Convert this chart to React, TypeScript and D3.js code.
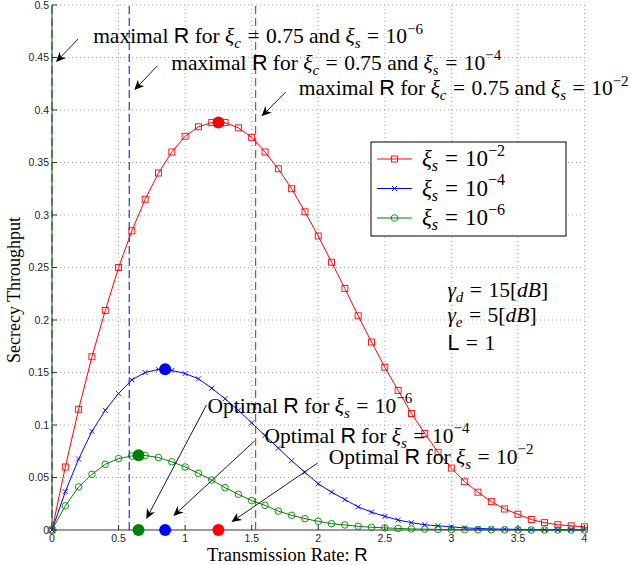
import React from 'react';
import * as d3 from 'd3';

const W = 636;
const H = 565;

// transmission rate samples and throughput for each secrecy outage constraint
const rates = [0, 0.1, 0.2, 0.3, 0.4, 0.5, 0.6, 0.7, 0.8, 0.9, 1.0, 1.1, 1.2, 1.3, 1.4, 1.5, 1.6, 1.7, 1.8, 1.9, 2.0,
  2.1, 2.2, 2.3, 2.4, 2.5, 2.6, 2.7, 2.8, 2.9, 3.0, 3.1, 3.2, 3.3, 3.4, 3.5, 3.6, 3.7, 3.8, 3.9, 4.0];
const tputE2 = [0, 0.060, 0.115, 0.165, 0.209, 0.250, 0.285, 0.315, 0.340, 0.360, 0.375, 0.384, 0.388, 0.388, 0.383,
  0.374, 0.360, 0.344, 0.325, 0.303, 0.280, 0.255, 0.230, 0.204, 0.179, 0.155, 0.133, 0.111, 0.092, 0.074, 0.059,
  0.046, 0.036, 0.027, 0.020, 0.015, 0.010, 0.007, 0.005, 0.004, 0.003];
const tputE4 = [0, 0.0365, 0.0676, 0.094, 0.114, 0.130, 0.143, 0.150, 0.153, 0.152, 0.149, 0.144, 0.135, 0.125, 0.114,
  0.102, 0.090, 0.078, 0.066, 0.055, 0.044, 0.036, 0.029, 0.022, 0.017, 0.013, 0.0095, 0.007, 0.005, 0.004, 0.003,
  0.002, 0.0015, 0.001, 0.0008, 0.0006, 0.0004, 0.0003, 0.0002, 0.0002, 0.0001];
const tputE6 = [0, 0.023, 0.041, 0.053, 0.0625, 0.068, 0.0705, 0.071, 0.069, 0.065, 0.060, 0.054, 0.0476, 0.0403, 0.034,
  0.028, 0.0235, 0.018, 0.014, 0.0108, 0.0083, 0.006, 0.0048, 0.0035, 0.0026, 0.002, 0.0015, 0.001, 0.0008, 0.0006,
  0.0004, 0.0003, 0.0002, 0.0002, 0.0001, 0.0001, 0, 0, 0, 0, 0];

const expLabels = ['−2', '−4', '−6'];
const optimalR = [1.25, 0.85, 0.65];
const optimalTput = [0.388, 0.153, 0.0711];
const maximalR = [1.53, 0.58, 0];

const xTicks = [0, 0.5, 1, 1.5, 2, 2.5, 3, 3.5, 4];
const yTicks = [0, 0.05, 0.1, 0.15, 0.2, 0.25, 0.3, 0.35, 0.4, 0.45, 0.5];

const colors = ['#ff0000', '#0000ff', '#008000'];
const markers = ['square', 'cross', 'circle'];
const series = [tputE2, tputE4, tputE6];

const SERIF = '"Liberation Serif", "Times New Roman", serif';
const SANS = '"Liberation Sans", Arial, sans-serif';

const x = d3.scaleLinear().domain([0, 4]).range([52, 584.5]);
const y = d3.scaleLinear().domain([0, 0.5]).range([530, 5]);

type Part = [string, string];

// tiny LaTeX-ish renderer: rm, it, sf, sub, sup, rel (relation with thick spaces)
const MathText = ({ px, py, parts, size = 21.5 }: { px: number; py: number; parts: Part[]; size?: number }) => {
  let shift = 0;
  let pad = 0;
  return (
    <text x={px} y={py} fontFamily={SERIF} fontSize={size} fill="#000">
      {parts.map(([t, k], i) => {
        let target = 0;
        let fs = size;
        if (k === 'sub') { target = size * 0.22; fs = size * 0.7; }
        if (k === 'sup') { target = -size * 0.45; fs = size * 0.7; }
        const dy = target - shift;
        shift = target;
        let dx = pad;
        pad = 0;
        if (k === 'rel') { dx += size * 0.3; pad = size * 0.3; }
        return (
          <tspan key={i} dy={dy || undefined} dx={dx || undefined} fontSize={fs}
            fontStyle={k === 'it' || k === 'sub' ? 'italic' : 'normal'}
            fontFamily={k === 'sf' ? SANS : SERIF}>{t}</tspan>
        );
      })}
    </text>
  );
};

const maxParts = (e: string): Part[] => [
  ['maximal ', 'rm'], ['R', 'sf'], [' for ', 'rm'], ['ξ', 'it'], ['c', 'sub'], ['=', 'rel'], ['0.75 and ', 'rm'],
  ['ξ', 'it'], ['s', 'sub'], ['=', 'rel'], ['10', 'rm'], [e, 'sup']];
const optParts = (e: string): Part[] => [
  ['Optimal ', 'rm'], ['R', 'sf'], [' for ', 'rm'], ['ξ', 'it'], ['s', 'sub'], ['=', 'rel'], ['10', 'rm'], [e, 'sup']];
const legParts = (e: string): Part[] => [['ξ', 'it'], ['s', 'sub'], ['=', 'rel'], ['10', 'rm'], [e, 'sup']];

// annotation placements in data units: [textX, textY, tailX, tailY, headX, headY]
const maxAnno = [
  [1.853, 0.414, 1.755, 0.417, 1.574, 0.394],
  [0.896, 0.438, 0.791, 0.442, 0.618, 0.419],
  [0.309, 0.4635, 0.196, 0.4676, 0.03, 0.4457],
];
const optAnno = [
  [2.079, 0.0629, 1.996, 0.0638, 1.348, 0.0076],
  [1.597, 0.0829, 1.522, 0.0848, 0.911, 0.0133],
  [1.168, 0.1114, 1.16, 0.119, 0.708, 0.0105],
];

const Arrow = ({ a }: { a: number[] }) => {
  const x1 = x(a[2]), y1 = y(a[3]), x2 = x(a[4]), y2 = y(a[5]);
  const ang = Math.atan2(y2 - y1, x2 - x1);
  const L = 10, Wd = 4.5, notch = 7;
  const c = Math.cos(ang), s = Math.sin(ang);
  const pt = (u: number, v: number) => `${x2 - u * c - v * s},${y2 - u * s + v * c}`;
  return (
    <g>
      <line x1={x1} y1={y1} x2={x2 - notch * c} y2={y2 - notch * s} stroke="#000" strokeWidth={0.9} />
      <polygon points={`${x2},${y2} ${pt(L, Wd)} ${pt(notch, 0)} ${pt(L, -Wd)}`} fill="#000" />
    </g>
  );
};

const Marker = ({ type, cx, cy, color }: { type: string; cx: number; cy: number; color: string }) => {
  if (type === 'square') return <rect x={cx - 3} y={cy - 3} width={6} height={6} fill="none" stroke={color} strokeWidth={0.9} />;
  if (type === 'circle') return <circle cx={cx} cy={cy} r={3.3} fill="none" stroke={color} strokeWidth={0.9} />;
  return <path d={`M${cx - 2.5},${cy - 2.5}L${cx + 2.5},${cy + 2.5}M${cx - 2.5},${cy + 2.5}L${cx + 2.5},${cy - 2.5}`} stroke={color} strokeWidth={0.9} />;
};

export default function App() {
  const line = d3.line<number>().x((_, i) => x(rates[i])).y((d) => y(d));

  return (
    <svg width={W} height={H} style={{ position: 'absolute', left: 0, top: 0, background: '#fff' }}>
      {/* grid */}
      <g stroke="#8c8c8c" strokeWidth={0.8} strokeDasharray="1,3">
        {xTicks.slice(1).map((t) => <line key={t} x1={x(t)} x2={x(t)} y1={y(0)} y2={y(0.5)} />)}
        {yTicks.slice(1).map((t) => <line key={t} x1={x(0)} x2={x(4)} y1={y(t)} y2={y(t)} />)}
      </g>

      {/* axes */}
      <g stroke="#000" strokeWidth={0.8}>
        <line x1={x(0)} x2={x(0)} y1={y(0)} y2={y(0.5)} />
        <line x1={x(0)} x2={x(4)} y1={y(0)} y2={y(0)} />
        {xTicks.map((t) => <line key={'xt' + t} x1={x(t)} x2={x(t)} y1={y(0)} y2={y(0) - 5} />)}
        {yTicks.map((t) => <line key={'yt' + t} x1={x(0)} x2={x(0) + 5} y1={y(t)} y2={y(t)} />)}
      </g>
      <g fontFamily={SANS} fontSize={10.5} fill="#222">
        {xTicks.map((t) => <text key={t} x={x(t)} y={y(0) + 12} textAnchor="middle">{String(t)}</text>)}
        {yTicks.map((t) => <text key={t} x={x(0) - 3} y={y(t) + 3.5} textAnchor="end">{String(t)}</text>)}
      </g>

      {/* maximal R dashed lines */}
      {maximalR.map((r, i) => (
        <line key={i} x1={x(r)} x2={x(r)} y1={y(0)} y2={y(0.5)} stroke={i === 2 ? '#006400' : colors[i]}
          strokeWidth={1} strokeDasharray="8,4" />
      ))}

      {/* curves */}
      {series.map((s, i) => (
        <g key={i}>
          <path d={line(s) || ''} fill="none" stroke={colors[i]} strokeWidth={1} />
          {s.map((v, j) => <Marker key={j} type={markers[i]} cx={x(rates[j])} cy={y(v)} color={colors[i]} />)}
        </g>
      ))}

      {/* optimum points */}
      {optimalR.map((r, i) => (
        <g key={i} fill={colors[i]}>
          <circle cx={x(r)} cy={y(optimalTput[i])} r={6} />
          <circle cx={x(r)} cy={y(0)} r={6} />
        </g>
      ))}

      {/* legend */}
      <g>
        <rect x={371} y={142} width={195} height={94} fill="#fff" stroke="#000" strokeWidth={1} />
        {series.map((_, i) => {
          const ly = 159 + i * 29.5;
          return (
            <g key={i}>
              <line x1={377} x2={412} y1={ly} y2={ly} stroke={colors[i]} strokeWidth={1} />
              <Marker type={markers[i]} cx={394.5} cy={ly} color={colors[i]} />
              <MathText px={422} py={ly + 7} size={23} parts={legParts(expLabels[i])} />
            </g>
          );
        })}
      </g>

      {/* annotations */}
      {maxAnno.map((a, i) => (
        <g key={i}>
          <Arrow a={a} />
          <MathText px={x(a[0])} py={y(a[1])} parts={maxParts(expLabels[i])} />
        </g>
      ))}
      {optAnno.map((a, i) => (
        <g key={i}>
          <Arrow a={a} />
          <MathText px={x(a[0])} py={y(a[1])} parts={optParts(expLabels[i])} />
        </g>
      ))}

      <MathText px={x(2.97)} py={y(0.222)} parts={[['γ', 'it'], ['d', 'sub'], ['=', 'rel'], ['15[', 'rm'], ['dB', 'it'], [']', 'rm']]} />
      <MathText px={x(2.97)} py={y(0.198)} parts={[['γ', 'it'], ['e', 'sub'], ['=', 'rel'], ['5[', 'rm'], ['dB', 'it'], [']', 'rm']]} />
      <MathText px={x(2.97)} py={y(0.171)} parts={[['L', 'sf'], ['=', 'rel'], ['1', 'rm']]} />

      {/* axis labels */}
      <text x={207} y={560.5} fontFamily={SERIF} fontSize={18.5}>
        Transmission Rate: <tspan fontFamily={SANS}>R</tspan>
      </text>
      <text transform="translate(20,290) rotate(-90)" textAnchor="middle" fontFamily={SERIF} fontSize={18}>
        Secrecy Throughput
      </text>
    </svg>
  );
}
